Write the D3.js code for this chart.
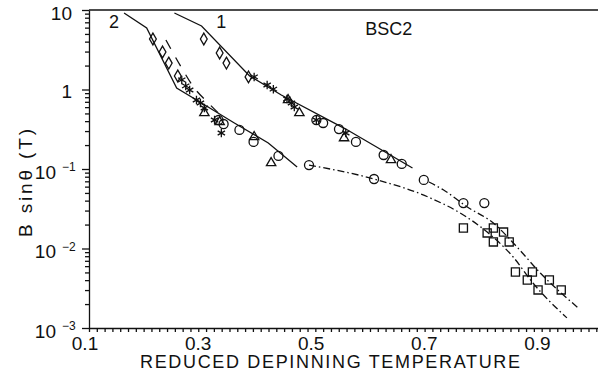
<!DOCTYPE html>
<html>
<head>
<meta charset="utf-8">
<script src="https://cdn.jsdelivr.net/npm/d3@7"></script>
<style>
  body { margin: 0; background: #fff; }
  svg { display: block; font-family: "Liberation Sans", Arial, sans-serif; }
</style>
</head>
<body>
<svg id="chart" width="598" height="379"></svg>
<script>
// reduced depinning temperature (x) vs B sin(theta) in tesla (y, log)

var curve1Line = [[0.251, 9.17], [0.299, 6.3], [0.384, 1.48], [0.440, 0.853], [0.554, 0.318], [0.672, 0.103]];
var curve2Line = [[0.162, 9.17], [0.202, 5.94], [0.255, 1.04], [0.299, 0.676], [0.357, 0.379], [0.417, 0.212], [0.468, 0.106]];
var curve2Dashed = [[0.236, 4.2], [0.264, 1.86], [0.285, 1.07], [0.311, 0.676], [0.338, 0.438]];
var dashDotLow = [[0.489, 0.112], [0.604, 0.0748], [0.704, 0.0431], [0.762, 0.0264], [0.804, 0.0161],
                  [0.850, 0.00782], [0.885, 0.00368], [0.945, 0.00134]];
var dashDotHigh = [[0.701, 0.0686], [0.727, 0.0544], [0.769, 0.0333], [0.815, 0.0209], [0.857, 0.0104],
                   [0.898, 0.00492], [0.965, 0.00179]];

var diamonds = [[0.213, 4.32], [0.230, 2.96], [0.241, 2.15], [0.257, 1.48],
                [0.303, 4.32], [0.331, 2.88], [0.343, 2.15], [0.382, 1.44]];
var asterisks = [[0.264, 1.32], [0.271, 1.11], [0.278, 0.987], [0.290, 0.738], [0.297, 0.676], [0.304, 0.585],
                 [0.322, 0.413], [0.334, 0.284],
                 [0.392, 1.44], [0.415, 1.14], [0.426, 1.01], [0.450, 0.760], [0.458, 0.676], [0.463, 0.602],
                 [0.502, 0.413], [0.554, 0.284]];
var circles = [[0.329, 0.413], [0.338, 0.368], [0.366, 0.310], [0.391, 0.219], [0.435, 0.146],
               [0.502, 0.413], [0.514, 0.379], [0.542, 0.318], [0.572, 0.219], [0.621, 0.150], [0.653, 0.116],
               [0.489, 0.112], [0.604, 0.0748], [0.692, 0.0728], [0.762, 0.0373], [0.799, 0.0373]];
var triangles = [[0.304, 0.506], [0.331, 0.390], [0.392, 0.253], [0.422, 0.119],
                 [0.452, 0.738], [0.472, 0.506], [0.551, 0.245], [0.634, 0.130]];
var squares = [[0.762, 0.0181], [0.804, 0.0157], [0.815, 0.0181], [0.815, 0.0121], [0.833, 0.0161], [0.843, 0.0121],
               [0.854, 0.00506], [0.875, 0.00402], [0.884, 0.00506], [0.894, 0.00301], [0.914, 0.00402], [0.935, 0.00301]];

var xLabels = [0.1, 0.3, 0.5, 0.7, 0.9];
var yMajor = [1e-3, 1e-2, 1e-1, 1, 10];
var notes = [{t: "2", x: 0.144, y: 5.94}, {t: "1", x: 0.334, y: 5.94}, {t: "BSC2", x: 0.630, y: 4.85}];

var svg = d3.select("#chart");
var font = "'Liberation Sans', Arial, sans-serif";

var x = d3.scaleLinear().domain([0.1, 1.0]).range([89, 598]);
var y = d3.scaleLog().domain([1e-3, 10]).range([328, 10]);

var ink = "#111";

// ---- axes ----
var yMinor = [];
[-3, -2, -1, 0].forEach(function(e) {
  d3.range(2, 10).forEach(function(k) { yMinor.push(k * Math.pow(10, e)); });
});

var gy = svg.append("g").attr("transform", "translate(" + x(0.1) + ",0)");
gy.call(d3.axisLeft(y).tickValues(yMinor).tickSize(4).tickSizeOuter(0).tickFormat(""));
gy.append("g").call(d3.axisLeft(y).tickValues(yMajor).tickSize(7).tickSizeOuter(0).tickFormat(""))
  .select(".domain").remove();
gy.selectAll("line, path").attr("stroke", ink).attr("stroke-width", 1.3);

// axis groups carry their own font settings, so set them again here
var ylab = gy.append("g")
    .attr("font-size", 19)
    .attr("font-family", font)
    .attr("fill", ink)
    .attr("text-anchor", "start");
yMajor.forEach(function(v) {
  var e = Math.round(Math.log10(v));
  if (e >= 0) {
    ylab.append("text").attr("x", -17).attr("y", y(v) + (e > 0 ? 3 : 1.5)).attr("dy", "0.35em")
      .attr("text-anchor", "end").text(e === 0 ? "1" : "10");
  } else {
    ylab.append("text").attr("x", -33).attr("y", y(v) + 3).attr("dy", "0.35em")
      .attr("text-anchor", "end").text("10");
    ylab.append("text").attr("x", -27).attr("y", y(v) - 2).attr("dy", "0.35em")
      .attr("text-anchor", "start")
      .attr("font-size", 12).text("\u2212" + (-e));
  }
});

var xMinor = d3.range(0, 66).map(function(i) { return 0.1 + i * 0.0138; });
var gx = svg.append("g").attr("transform", "translate(0," + y(1e-3) + ")");
gx.call(d3.axisBottom(x).tickValues(xMinor).tickSize(4).tickSizeOuter(0).tickFormat(""));
gx.selectAll("line, path").attr("stroke", ink).attr("stroke-width", 1.3);
gx.selectAll(".xlab")
  .data(xLabels)
  .enter().append("text")
    .attr("class", "xlab")
    .attr("x", function(d) { return x(d) - 4; })
    .attr("y", 22)
    .attr("text-anchor", "middle")
    .attr("font-size", 19)
    .attr("font-family", font)
    .attr("fill", ink)
    .text(function(d) { return d3.format(".1f")(d); });

// top frame line
svg.append("line")
  .attr("x1", x(0.1)).attr("x2", x(1.0))
  .attr("y1", y(10)).attr("y2", y(10))
  .attr("stroke", ink).attr("stroke-width", 1.3);

svg.append("text")
  .attr("x", 330).attr("y", 368)
  .attr("text-anchor", "middle")
  .attr("font-size", 18)
  .attr("fill", ink)
  .attr("textLength", 380)
  .attr("lengthAdjust", "spacing")
  .text("REDUCED  DEPINNING  TEMPERATURE");

svg.append("text")
  .attr("transform", "translate(32,183) rotate(-90)")
  .attr("text-anchor", "middle")
  .attr("font-size", 19)
  .attr("fill", ink)
  .attr("textLength", 108)
  .attr("lengthAdjust", "spacing")
  .text("B sin\u03b8 (T)");

// ---- curves ----
var line = d3.line()
    .x(function(d) { return x(d[0]); })
    .y(function(d) { return y(d[1]); });
var smooth = d3.line()
    .x(function(d) { return x(d[0]); })
    .y(function(d) { return y(d[1]); })
    .curve(d3.curveMonotoneX);

var curves = [
  {data: curve1Line, gen: line, dash: null},
  {data: curve2Line, gen: line, dash: null},
  {data: curve2Dashed, gen: smooth, dash: "10,10"},
  {data: dashDotLow, gen: smooth, dash: "7,3,1.5,3"},
  {data: dashDotHigh, gen: smooth, dash: "7,3,1.5,3"}
];
svg.append("g").selectAll("path")
  .data(curves)
  .enter().append("path")
    .attr("d", function(c) { return c.gen(c.data); })
    .attr("fill", "none")
    .attr("stroke", ink)
    .attr("stroke-width", 1.3)
    .attr("stroke-dasharray", function(c) { return c.dash; });

// ---- markers ----
function drawMarks(data, type, size) {
  svg.append("g").selectAll("path")
    .data(data)
    .enter().append("path")
      .attr("transform", function(d) { return "translate(" + x(d[0]) + "," + y(d[1]) + ")"; })
      .attr("d", d3.symbol().type(type).size(size))
      .attr("fill", "none")
      .attr("stroke", ink)
      .attr("stroke-width", 1.3);
}
drawMarks(diamonds, d3.symbolDiamond, 40);
drawMarks(circles, d3.symbolCircle, 64);
drawMarks(triangles, d3.symbolTriangle, 38);
drawMarks(squares, d3.symbolSquare, 66);
drawMarks(asterisks, d3.symbolAsterisk, 50);

// ---- annotations ----
svg.append("g").selectAll("text")
  .data(notes)
  .enter().append("text")
    .attr("x", function(d) { return x(d.x); })
    .attr("y", function(d) { return y(d.y); })
    .attr("text-anchor", "middle")
    .attr("font-size", 18)
    .attr("fill", ink)
    .text(function(d) { return d.t; });
</script>
</body>
</html>
